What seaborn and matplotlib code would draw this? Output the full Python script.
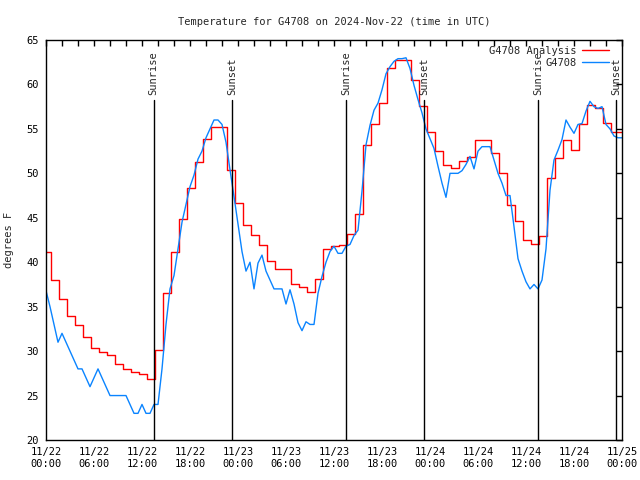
import matplotlib
matplotlib.use("Agg")
import matplotlib.pyplot as plt
import matplotlib.dates as mdates
import numpy as np
import pandas as pd
import seaborn as sns

# ── Data ──────────────────────────────────────────────────────────────────
start = pd.Timestamp("2024-11-22 00:00")
end = pd.Timestamp("2024-11-25 00:00")

# hourly analysis values; each hourly value holds from hh:39 to (hh+1):39
analysis_temp = [
    41.2, 38.0, 35.9, 33.9, 32.9, 31.55, 30.3, 29.9, 29.6, 28.55, 28.0, 27.6,
    27.4, 26.9, 30.1, 36.5, 41.1, 44.9, 48.3, 51.3, 53.9, 55.2, 55.2, 50.4,
    46.7, 44.2, 43.1, 41.9, 40.1, 39.2, 39.2, 37.5, 37.25, 36.65, 38.1, 41.5,
    41.8, 41.9, 43.2, 45.4, 53.2, 55.6, 57.9, 61.8, 62.8, 62.8, 60.5, 57.6,
    54.6, 52.55, 50.9, 50.55, 51.4, 51.8, 53.75, 53.75, 52.3, 50.0, 46.4, 44.6,
    42.5, 42.0, 43.0, 49.5, 51.7, 53.75, 52.6, 55.6, 57.7, 57.3, 55.7, 54.7,
    54.6,
]

# station observations, every 30 minutes
obs_temp = [
    36.8, 35, 33, 31, 32, 31, 30, 29, 28, 28, 27, 26, 27, 28, 27, 26, 25, 25,
    25, 25, 25, 24, 23, 23, 24, 23, 23, 24, 24, 28, 33, 37, 38.5, 41.5, 44.5,
    46.5, 48.5, 49.8, 51.6, 52.5, 54, 55, 56, 56, 55.5, 53.5, 50.4, 47.4, 44.3,
    41.2, 39, 40, 37, 39.9, 40.8, 39, 38, 37, 37, 37, 35.3, 36.9, 35.3, 33.2,
    32.3, 33.3, 33, 33, 36.5, 38.4, 40, 41.2, 41.8, 41, 41, 41.8, 42, 43, 43.6,
    48, 53.2, 55.4, 57.1, 57.9, 59.4, 61.2, 62, 62.6, 62.9, 62.9, 63, 61.8,
    59.9, 58.3, 56.8, 55, 53.9, 52.8, 50.8, 48.9, 47.3, 50, 50, 50, 50.3, 51,
    51.9, 50.5, 52.5, 53, 53, 53, 51.5, 50, 48.9, 47.5, 47.5, 44, 40.4, 39,
    37.8, 37, 37.5, 37, 38, 41.5, 48.1, 51.5, 52.6, 53.8, 56, 55.2, 54.5, 55.5,
    55.6, 57, 58.1, 57.5, 57.3, 57.5, 55.5, 55, 54.2, 54, 54,
]

sunrise = ["2024-11-22 13:28", "2024-11-23 13:32", "2024-11-24 13:33"]
sunset = ["2024-11-22 23:16", "2024-11-23 23:15", "2024-11-24 23:15"]

# ── Frames ────────────────────────────────────────────────────────────────
ana_times = [start] + list(pd.date_range("2024-11-22 00:39", periods=len(analysis_temp) - 1, freq="h"))
ana_df = pd.DataFrame({"time": ana_times + [end],
                       "temp": analysis_temp + [analysis_temp[-1]]})
obs_df = pd.DataFrame({"time": pd.date_range(start, periods=len(obs_temp), freq="30min"),
                       "temp": obs_temp})

# ── Plot ──────────────────────────────────────────────────────────────────
sns.set_style("white")
plt.rcParams["font.family"] = ["DejaVu Sans Mono"]
plt.rcParams["font.size"] = 7.5

fig = plt.figure(figsize=(6.4, 4.8), dpi=100)
ax = fig.add_axes([46 / 640, 40 / 480, 576 / 640, 400 / 480])

red = "#ff0000"
blue = "#0a84ff"
sns.lineplot(data=ana_df, x="time", y="temp", ax=ax, color=red, lw=1.0,
             drawstyle="steps-post", label="G4708 Analysis")
sns.lineplot(data=obs_df, x="time", y="temp", ax=ax, color=blue, lw=1.0,
             label="G4708")

for t in sunrise:
    ax.axvline(pd.Timestamp(t), ymin=0, ymax=0.85, color="black", lw=1.0)
    ax.text(pd.Timestamp(t), 0.8625, "Sunrise", rotation=90, ha="center", va="bottom",
            transform=ax.get_xaxis_transform(), fontsize=7.5)
for t in sunset:
    ax.axvline(pd.Timestamp(t), ymin=0, ymax=0.85, color="black", lw=1.0)
    ax.text(pd.Timestamp(t), 0.8625, "Sunset", rotation=90, ha="center", va="bottom",
            transform=ax.get_xaxis_transform(), fontsize=7.5)

ax.set_xlim(start, end)
ax.set_ylim(20, 65)
ax.set_yticks(np.arange(20, 66, 5))
ax.xaxis.set_major_locator(mdates.HourLocator(byhour=[0, 6, 12, 18]))
ax.xaxis.set_minor_locator(mdates.HourLocator(interval=2))
ax.xaxis.set_major_formatter(mdates.DateFormatter("%m/%d\n%H:%M"))
ax.tick_params(which="both", direction="in", length=4, width=1.0,
               top=True, right=True, labelsize=7.5, pad=5, colors="black")
for s in ax.spines.values():
    s.set_color("black")
    s.set_linewidth(1.0)

ax.set_xlabel("")
ax.set_ylabel("degrees F", fontsize=7.5, labelpad=9)
ax.set_title("Temperature for G4708 on 2024-Nov-22 (time in UTC)", fontsize=7.5, pad=11)

ax.legend(loc="upper right", bbox_to_anchor=(0.984, 0.996), frameon=False,
          markerfirst=False, handlelength=2.6, fontsize=7.5, borderaxespad=0,
          labelspacing=0.2, handletextpad=0.5)

fig.savefig("out.png", dpi=100)
